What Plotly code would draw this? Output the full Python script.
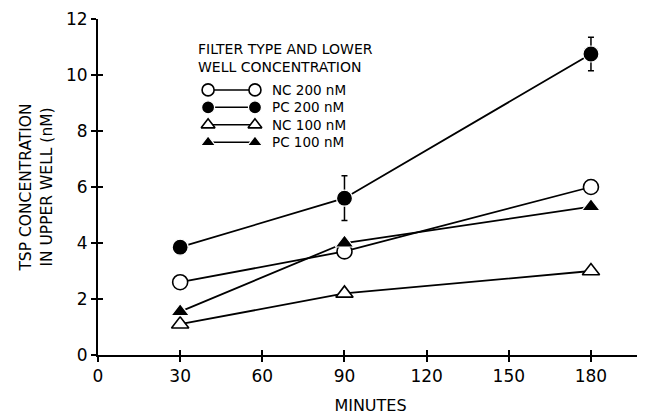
import plotly.graph_objects as go

minutes = [30, 90, 180]
nc200 = [2.6, 3.7, 6.0]
pc200 = [3.85, 5.6, 10.75]
pc200_err = [0.0, 0.8, 0.6]
nc100 = [1.1, 2.2, 3.0]
pc100 = [1.55, 4.0, 5.3]

series = [
    ("NC 200 nM", nc200, "circle-open", None),
    ("PC 200 nM", pc200, "circle", pc200_err),
    ("NC 100 nM", nc100, "triangle-up-open", None),
    ("PC 100 nM", pc100, "triangle-up", None),
]
x_ticks = [0, 30, 60, 90, 120, 150, 180]
y_ticks = [0, 2, 4, 6, 8, 10, 12]

FONT = "DejaVu Sans"
fig = go.Figure()

def marker_style(sym, size):
    filled = not sym.endswith("open")
    base = sym.replace("-open", "")
    if filled:
        return dict(symbol=base, size=size + 1, color="black", line=dict(color="white", width=1.2))
    return dict(symbol=base, size=size, color="white", line=dict(color="black", width=1.6))

for name, ys, sym, err in series:
    fig.add_trace(go.Scatter(x=minutes, y=ys, mode="lines", line=dict(color="black", width=1.8),
                             showlegend=False, hoverinfo="skip"))
for name, ys, sym, err in series:
    kw = {}
    if err:
        kw["error_y"] = dict(type="data", array=err, color="black", thickness=1.5, width=3)
    fig.add_trace(go.Scatter(x=minutes, y=ys, mode="markers", marker=marker_style(sym, 15),
                             showlegend=False, name=name, **kw))

# custom legend on an overlay axis in fractional units
leg_rows = [0.789, 0.737, 0.685, 0.633]
for (name, ys, sym, err), ry in zip(series, leg_rows):
    fig.add_trace(go.Scatter(x=[0.202, 0.288], y=[ry, ry], mode="lines+markers",
                             line=dict(color="black", width=1.5),
                             marker=marker_style(sym, 12),
                             xaxis="x2", yaxis="y2", showlegend=False, hoverinfo="skip"))
    fig.add_annotation(x=0.316, y=ry, xref="x2", yref="y2", text=name, showarrow=False,
                       xanchor="left", yanchor="middle",
                       font=dict(family=FONT, size=13.5, color="black"))
fig.add_annotation(x=0.180, y=0.885, xref="x2", yref="y2",
                   text="FILTER TYPE AND LOWER<br>WELL CONCENTRATION", showarrow=False,
                   xanchor="left", yanchor="middle", align="left",
                   font=dict(family=FONT, size=14, color="black"))

axis_common = dict(showgrid=False, zeroline=False, showline=True, linecolor="black", linewidth=2,
                   ticks="outside", ticklen=5, tickwidth=1.5, tickcolor="black", automargin=False,
                   tickfont=dict(family=FONT, size=17, color="black"))
# page body has an 8px margin, so the figure is sized/offset to compensate
fig.update_layout(
    width=637, height=409,
    margin=dict(l=90, r=2, t=11, b=62),
    paper_bgcolor="white", plot_bgcolor="white",
    xaxis=dict(range=[0, 199], tickvals=x_ticks, **axis_common,
               title=dict(text="MINUTES", font=dict(family=FONT, size=16, color="black"), standoff=14)),
    yaxis=dict(range=[0, 12], tickvals=y_ticks, **axis_common,
               title=dict(text="TSP CONCENTRATION<br>IN UPPER WELL (nM)",
                          font=dict(family=FONT, size=15.5, color="black"), standoff=10)),
    xaxis2=dict(overlaying="x", range=[0, 1], visible=False),
    yaxis2=dict(overlaying="y", range=[0, 1], visible=False),
    showlegend=False,
)
# inside ticks to make crossing ticks
fig.update_layout(
    xaxis3=dict(overlaying="x", range=[0, 199], tickvals=x_ticks, ticks="inside", ticklen=5,
                tickwidth=1.5, tickcolor="black", showticklabels=False, showgrid=False,
                zeroline=False, showline=False),
    yaxis3=dict(overlaying="y", range=[0, 12], tickvals=y_ticks, ticks="inside", ticklen=5,
                tickwidth=1.5, tickcolor="black", showticklabels=False, showgrid=False,
                zeroline=False, showline=False),
)
fig.add_trace(go.Scatter(x=[None], y=[None], xaxis="x3", yaxis="y3", showlegend=False))
fig.write_html("out.html")
